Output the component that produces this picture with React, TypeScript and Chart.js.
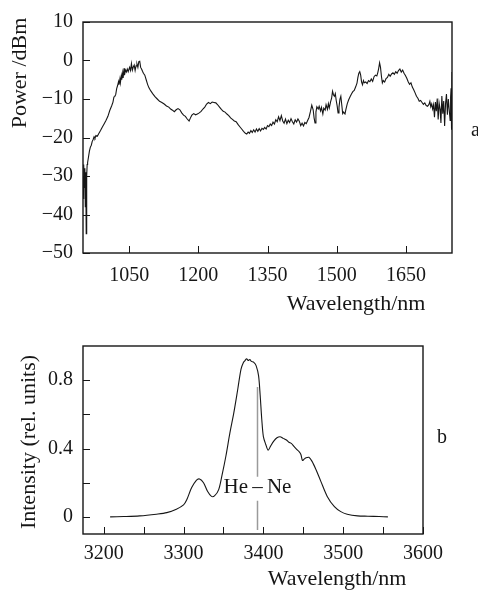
import React, { useEffect, useRef } from 'react';
import { Chart, registerables } from 'chart.js';

Chart.register(...registerables);

const SERIF = '"Liberation Serif", "Times New Roman", serif';
const INK = '#161616';

// ---- Panel a: broadband spectrum ----
const wavelengthA = [
  950, 951, 952, 953, 954, 955, 956, 957, 958, 959, 960, 962, 964, 966, 968, 970, 972, 974, 976, 978,
  981, 984, 988, 992, 996, 1000, 1004, 1008, 1012, 1015, 1017, 1019, 1021, 1023, 1025, 1027, 1028, 1030, 1031, 1033,
  1034, 1036, 1037, 1039, 1040, 1042, 1044, 1046, 1048, 1051, 1053, 1055, 1057, 1059, 1061, 1063, 1065, 1067, 1069, 1071,
  1073, 1075, 1077, 1079, 1081, 1084, 1087, 1090, 1093, 1097, 1101, 1106, 1111, 1116, 1121, 1126, 1131, 1136, 1140, 1144,
  1148, 1152, 1156, 1160, 1164, 1168, 1172, 1176, 1180, 1183, 1186, 1190, 1194, 1198, 1202, 1206, 1210, 1214, 1218, 1222,
  1226, 1230, 1234, 1238, 1242, 1246, 1250, 1254, 1258, 1262, 1266, 1270, 1274, 1278, 1282, 1286, 1290, 1294, 1298, 1302,
  1305, 1308, 1311, 1314, 1317, 1320, 1323, 1326, 1329, 1332, 1335, 1338, 1341, 1344, 1347, 1350, 1353, 1356, 1359, 1362,
  1365, 1368, 1371, 1374, 1377, 1380, 1383, 1386, 1389, 1392, 1395, 1398, 1401, 1404, 1407, 1410, 1413, 1416, 1419, 1422,
  1425, 1428, 1431, 1434, 1437, 1440, 1443, 1446, 1449, 1451, 1453, 1455, 1457, 1460, 1462, 1465, 1467, 1470, 1472, 1475,
  1477, 1480, 1482, 1484, 1487, 1489, 1491, 1493, 1495, 1497, 1499, 1501, 1503, 1505, 1507, 1509, 1511, 1513, 1515, 1518,
  1520, 1523, 1526, 1529, 1532, 1535, 1538, 1541, 1544, 1546, 1548, 1550, 1552, 1554, 1556, 1558, 1560, 1563, 1566, 1569,
  1572, 1575, 1578, 1581, 1584, 1587, 1589, 1591, 1593, 1595, 1597, 1599, 1601, 1604, 1607, 1610, 1613, 1616, 1619, 1622,
  1625, 1628, 1631, 1634, 1637, 1640, 1643, 1646, 1649, 1652, 1655, 1658, 1661, 1664, 1667, 1670, 1673, 1676, 1679, 1682,
  1685, 1688, 1691, 1694, 1697, 1700, 1702, 1704, 1706, 1708, 1710, 1712, 1714, 1716, 1718, 1720, 1722, 1724, 1726, 1728,
  1730, 1732, 1734, 1736, 1738, 1740, 1742, 1744, 1746, 1747, 1748, 1749, 1750,
];
const powerA = [
  -30, -36, -27, -33, -28, -38, -29, -45, -30, -27, -26.5, -25, -23.5, -22.5, -22, -21, -20.5, -19.8, -20.2, -19.5,
  -19.7, -19, -18.2, -17.3, -16.4, -15.5, -14.5, -13, -11.8, -10.8, -9.5, -9.3, -8.8, -7.3, -6.5, -5.5, -6.3, -4.8, -5.8, -4,
  -5, -3.2, -4.5, -2, -3.8, -2.5, -3, -2.2, -2.9, -1.8, -2.6, -0.8, -2.5, -1.7, -1.2, -2.6, -1.4, -0.9, -1.8, -0.3,
  -0.2, -1.8, -2.2, -2.8, -3.3, -3.8, -5, -6.2, -7.1, -7.9, -8.6, -9.4, -10, -10.6, -10.9, -11.3, -11.8, -12.1, -12.6, -12.9,
  -13.3, -12.8, -12.5, -12.8, -13.6, -14.2, -14.5, -15.2, -15.7, -14.9, -14.2, -13.8, -14.1, -13.9, -13.6, -13.2, -12.6, -12.1, -11.3, -10.9,
  -11.2, -10.8, -10.9, -11.0, -11.5, -12.1, -12.7, -13.2, -13.4, -13.9, -14.3, -14.9, -15.3, -15.7, -15.9, -16.6, -17.2, -17.8, -18.4, -18.9,
  -19.1, -18.6, -18.9, -18.2, -18.7, -18.0, -18.6, -17.8, -18.4, -17.7, -18.3, -17.6, -17.9, -17.4, -17.8, -16.9, -17.2, -16.5, -16.9, -16.0,
  -16.5, -15.4, -15.9, -14.6, -15.6, -14.3, -15.7, -16.3, -15.2, -16.4, -15.5, -16.1, -15.1, -15.9, -16.5, -15.4, -16.0, -15.2, -15.8, -16.9,
  -16.3, -17.0, -16.1, -16.4, -15.6, -14.8, -13.3, -11.6, -12.8, -14.9, -16.2, -13.4, -12.0, -12.6, -11.9, -13.1, -12.2, -13.9, -12.4, -12.9,
  -11.5, -12.7, -11.2, -12.3, -10.6, -9.8, -8.0, -8.9, -9.3, -8.6, -10.4, -11.8, -13.6, -12.1, -10.1, -9.3, -11.5, -13.8, -13.4, -13.9,
  -12.7, -11.2, -10.2, -9.4, -8.7, -8.1, -7.8, -6.9, -5.9, -4.4, -3.3, -2.9, -3.8, -5.6, -6.3, -5.2, -5.8, -5.6, -6.0, -5.2,
  -5.5, -4.8, -5.4, -4.2, -3.8, -4.0, -3.2, -2.1, -0.6, -1.8, -4.1, -5.8, -5.2, -5.6, -4.7, -4.4, -3.6, -4.1, -3.5, -3.2,
  -3.6, -2.9, -3.3, -2.6, -2.2, -3.0, -2.5, -3.3, -3.9, -4.6, -5.5, -6.2, -5.8, -6.9, -7.6, -8.4, -9.3, -9.8, -10.6, -10.4,
  -10.9, -11.4, -11.0, -11.7, -11.9, -11.4, -10.6, -12.0, -11.3, -12.6, -11.5, -14.7, -10.8, -13.2, -9.9, -15.3, -11.0, -12.5, -16.2, -9.2,
  -13.8, -10.5, -17.0, -11.2, -8.7, -14.1, -10.0, -12.8, -15.6, -9.5, -7.2, -18.0, -3.0,
];
const xTicksA = [1050, 1200, 1350, 1500, 1650];
const yTicksA = [-50, -40, -30, -20, -10, 0, 10];

// ---- Panel b: He–Ne region spectrum ----
const wavelengthB = [
  3208, 3225, 3245, 3266, 3279, 3291, 3300, 3304, 3310, 3316, 3320, 3325, 3330, 3335, 3339, 3344, 3348, 3353, 3358, 3363,
  3368, 3372, 3375, 3377, 3379, 3381, 3383, 3385, 3388, 3391, 3394, 3396, 3398, 3400, 3403, 3406, 3409, 3413, 3417, 3421,
  3424, 3426, 3429, 3432, 3435, 3438, 3442, 3445, 3447, 3449, 3451, 3453, 3457, 3461, 3466, 3472, 3480, 3489, 3497, 3505,
  3518, 3531, 3545, 3556,
];
const intensityB = [
  0, 0.002, 0.006, 0.016, 0.025, 0.045, 0.07, 0.1, 0.17, 0.214, 0.222, 0.2, 0.15, 0.12, 0.124, 0.16, 0.24, 0.355, 0.49, 0.61,
  0.75, 0.865, 0.904, 0.915, 0.925, 0.915, 0.921, 0.91, 0.904, 0.884, 0.825, 0.71, 0.57, 0.47, 0.424, 0.39, 0.414, 0.443, 0.463, 0.469,
  0.462, 0.457, 0.45, 0.437, 0.43, 0.414, 0.394, 0.38, 0.365, 0.33, 0.338, 0.345, 0.349, 0.325, 0.276, 0.208, 0.12, 0.06, 0.031, 0.016,
  0.006, 0.004, 0.002, 0,
];
const xTicksB = [3200, 3250, 3300, 3350, 3400, 3450, 3500, 3550, 3600];
const xLabelsB = [3200, 3300, 3400, 3500, 3600];
const yTicksB = [0, 0.2, 0.4, 0.6, 0.8];
const yLabelsB = [0, 0.4, 0.8];
const heNeWavelength = 3392;

const fmt = (v: number) => (v < 0 ? '\u2212' + Math.abs(v) : String(v));

function framePlugin(extra: (chart: any) => void) {
  return {
    id: 'frameAndTicks',
    afterDatasetsDraw(chart: any) {
      const { ctx, chartArea: a, scales } = chart;
      const x = scales.x;
      const y = scales.y;
      ctx.save();
      ctx.strokeStyle = INK;
      ctx.lineWidth = 1;
      ctx.beginPath();
      x.ticks.forEach((t: any) => {
        const px = Math.round(x.getPixelForValue(t.value)) + 0.5;
        ctx.moveTo(px, a.bottom);
        ctx.lineTo(px, a.bottom - 7);
      });
      y.ticks.forEach((t: any) => {
        const py = Math.round(y.getPixelForValue(t.value)) + 0.5;
        ctx.moveTo(a.left, py);
        ctx.lineTo(a.left + 7, py);
      });
      ctx.stroke();
      ctx.lineWidth = 1.4;
      ctx.strokeRect(a.left, a.top, a.right - a.left, a.bottom - a.top);
      ctx.restore();
      extra(chart);
    },
  };
}

function drawText(ctx: any, text: string, x: number, y: number, size: number, align: string, baseline: string, rot = 0) {
  ctx.save();
  ctx.fillStyle = INK;
  ctx.font = `${size}px ${SERIF}`;
  ctx.textAlign = align;
  ctx.textBaseline = baseline;
  ctx.translate(x, y);
  if (rot) ctx.rotate(rot);
  ctx.fillText(text, 0, 0);
  ctx.restore();
}

export default function App() {
  const refA = useRef<HTMLCanvasElement>(null);
  const refB = useRef<HTMLCanvasElement>(null);

  useEffect(() => {
    const tickFont = { family: SERIF, size: 20 };

    const chartA = new Chart(refA.current as HTMLCanvasElement, {
      type: 'line',
      data: {
        datasets: [
          {
            data: wavelengthA.map((w, i) => ({ x: w, y: powerA[i] })),
            borderColor: INK,
            borderWidth: 1.1,
            pointRadius: 0,
            tension: 0,
            fill: false,
          },
        ],
      },
      options: {
        responsive: false,
        animation: false,
        devicePixelRatio: 1,
        layout: { padding: { left: 0, top: 13, right: 26, bottom: 0 } },
        plugins: { legend: { display: false }, tooltip: { enabled: false } },
        scales: {
          x: {
            type: 'linear',
            min: 950,
            max: 1750,
            afterBuildTicks: (s: any) => {
              s.ticks = xTicksA.map((v) => ({ value: v }));
            },
            afterFit: (s: any) => {
              s.height = 67;
            },
            grid: { display: false, drawTicks: false },
            border: { display: false },
            ticks: { font: tickFont, color: INK, padding: 11, autoSkip: false, maxRotation: 0, callback: (v: any) => fmt(v) },
          },
          y: {
            type: 'linear',
            min: -50,
            max: 10,
            afterBuildTicks: (s: any) => {
              s.ticks = yTicksA.map((v) => ({ value: v }));
            },
            afterFit: (s: any) => {
              s.width = 83;
            },
            grid: { display: false, drawTicks: false },
            border: { display: false },
            ticks: { font: tickFont, color: INK, padding: 10, callback: (v: any) => fmt(v) },
          },
        },
      },
      plugins: [
        framePlugin((chart: any) => {
          const ctx = chart.ctx;
          drawText(ctx, 'Power /dBm', 20, 73, 22, 'center', 'middle', -Math.PI / 2);
          drawText(ctx, 'Wavelength/nm', 356, 310, 22, 'center', 'alphabetic');
          drawText(ctx, 'a', 471, 131, 20, 'left', 'middle');
        }),
      ],
    } as any);

    const chartB = new Chart(refB.current as HTMLCanvasElement, {
      type: 'line',
      data: {
        datasets: [
          {
            data: wavelengthB.map((w, i) => ({ x: w, y: intensityB[i] })),
            borderColor: INK,
            borderWidth: 1.1,
            pointRadius: 0,
            tension: 0.3,
            fill: false,
          },
        ],
      },
      options: {
        responsive: false,
        animation: false,
        devicePixelRatio: 1,
        layout: { padding: { left: 0, top: 26, right: 55, bottom: 0 } },
        plugins: { legend: { display: false }, tooltip: { enabled: false } },
        scales: {
          x: {
            type: 'linear',
            min: 3174,
            max: 3600,
            afterBuildTicks: (s: any) => {
              s.ticks = xTicksB.map((v) => ({ value: v }));
            },
            afterFit: (s: any) => {
              s.height = 60;
            },
            grid: { display: false, drawTicks: false },
            border: { display: false },
            ticks: {
              font: tickFont,
              color: INK,
              padding: 8,
              autoSkip: false,
              maxRotation: 0,
              callback: (v: any) => (xLabelsB.includes(v) ? String(v) : ''),
            },
          },
          y: {
            type: 'linear',
            min: -0.1,
            max: 1.0,
            afterBuildTicks: (s: any) => {
              s.ticks = yTicksB.map((v) => ({ value: v }));
            },
            afterFit: (s: any) => {
              s.width = 83;
            },
            grid: { display: false, drawTicks: false },
            border: { display: false },
            ticks: {
              font: tickFont,
              color: INK,
              padding: 10,
              callback: (v: any) => (yLabelsB.some((l) => Math.abs(l - v) < 1e-9) ? String(v) : ''),
            },
          },
        },
      },
      plugins: [
        framePlugin((chart: any) => {
          const ctx = chart.ctx;
          const xs = chart.scales.x;
          const ys = chart.scales.y;
          const lx = Math.round(xs.getPixelForValue(heNeWavelength)) + 0.5;
          ctx.save();
          ctx.strokeStyle = '#9a9a9a';
          ctx.lineWidth = 1.5;
          ctx.beginPath();
          ctx.moveTo(lx, ys.getPixelForValue(0.76));
          ctx.lineTo(lx, ys.getPixelForValue(0.235));
          ctx.moveTo(lx, ys.getPixelForValue(0.095));
          ctx.lineTo(lx, ys.getPixelForValue(-0.076));
          ctx.stroke();
          ctx.restore();
          drawText(ctx, 'He\u2009\u2013\u2009Ne', lx, ys.getPixelForValue(0.175), 21, 'center', 'middle');
          drawText(ctx, 'Intensity (rel. units)', 29, 122, 22, 'center', 'middle', -Math.PI / 2);
          drawText(ctx, 'Wavelength/nm', 337, 265, 22, 'center', 'alphabetic');
          drawText(ctx, 'b', 442, 118, 20, 'center', 'middle');
        }),
      ],
    } as any);

    return () => {
      chartA.destroy();
      chartB.destroy();
    };
  }, []);

  return (
    <div style={{ position: 'absolute', left: 0, top: 0, width: 478, height: 594, background: '#fff' }}>
      <canvas ref={refA} width={478} height={320} style={{ position: 'absolute', left: 0, top: 0, display: 'block' }} />
      <canvas ref={refB} width={478} height={274} style={{ position: 'absolute', left: 0, top: 320, display: 'block' }} />
    </div>
  );
}
